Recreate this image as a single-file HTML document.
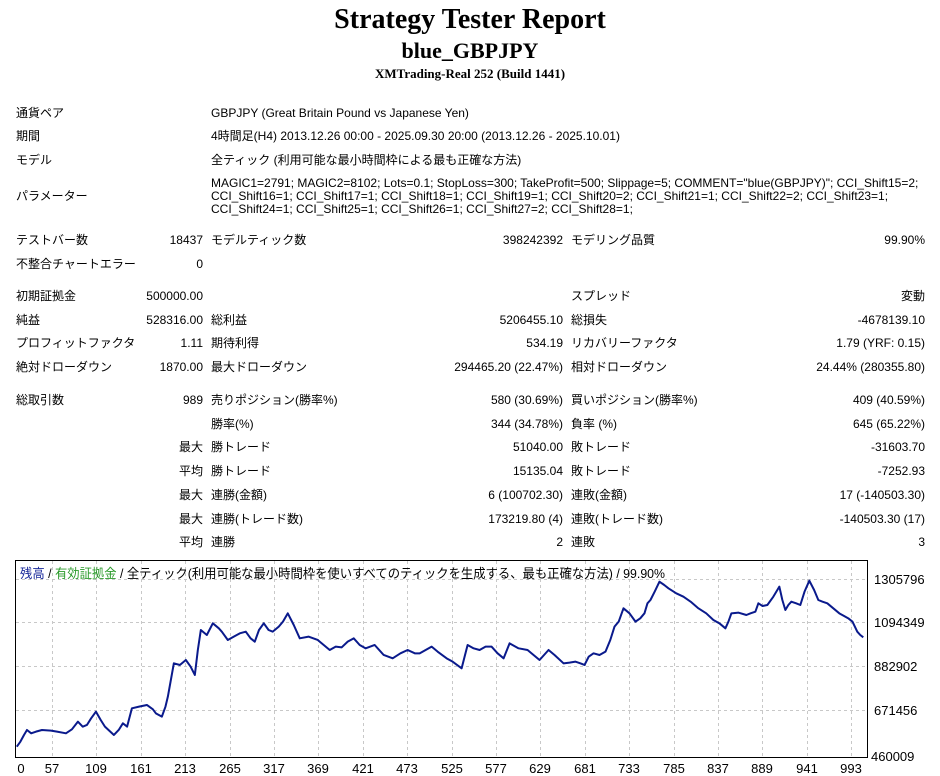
<!DOCTYPE html>
<html><head><meta charset="utf-8"><style>
body{margin:0;width:940px;height:776px;background:#fff;position:relative;overflow:hidden;font-family:"Liberation Sans","Noto Sans CJK JP",sans-serif;font-size:12px;color:#000}
.t{position:absolute;white-space:nowrap;line-height:14px}
.r{text-align:right}
.h{position:absolute;left:0;width:940px;text-align:center;font-family:"Liberation Serif","Noto Serif CJK SC",serif;font-weight:bold}
</style></head><body>
<div class="h" style="top:3px;font-size:28px;line-height:34px">Strategy Tester Report</div>
<div class="h" style="top:37px;font-size:22px;line-height:28px">blue_GBPJPY</div>
<div class="h" style="top:66px;font-size:13px;line-height:16px">XMTrading-Real 252 (Build 1441)</div>

<div class="t" style="left:16px;top:106px">通貨ペア</div>
<div class="t" style="left:211px;top:106px">GBPJPY (Great Britain Pound vs Japanese Yen)</div>
<div class="t" style="left:16px;top:129px">期間</div>
<div class="t" style="left:211px;top:129px">4時間足(H4) 2013.12.26 00:00 - 2025.09.30 20:00 (2013.12.26 - 2025.10.01)</div>
<div class="t" style="left:16px;top:153px">モデル</div>
<div class="t" style="left:211px;top:153px">全ティック (利用可能な最小時間枠による最も正確な方法)</div>
<div class="t" style="left:16px;top:189px">パラメーター</div>
<div class="t" style="left:211px;top:177px;line-height:13px">MAGIC1=2791; MAGIC2=8102; Lots=0.1; StopLoss=300; TakeProfit=500; Slippage=5; COMMENT="blue(GBPJPY)"; CCI_Shift15=2;<br>CCI_Shift16=1; CCI_Shift17=1; CCI_Shift18=1; CCI_Shift19=1; CCI_Shift20=2; CCI_Shift21=1; CCI_Shift22=2; CCI_Shift23=1;<br>CCI_Shift24=1; CCI_Shift25=1; CCI_Shift26=1; CCI_Shift27=2; CCI_Shift28=1;</div>

<div class="t" style="left:16px;top:233px">テストバー数</div><div class="t r" style="right:737px;top:233px">18437</div>
<div class="t" style="left:211px;top:233px">モデルティック数</div><div class="t r" style="right:377px;top:233px">398242392</div>
<div class="t" style="left:571px;top:233px">モデリング品質</div><div class="t r" style="right:15px;top:233px">99.90%</div>
<div class="t" style="left:16px;top:257px">不整合チャートエラー</div><div class="t r" style="right:737px;top:257px">0</div>

<div class="t" style="left:16px;top:289px">初期証拠金</div><div class="t r" style="right:737px;top:289px">500000.00</div>
<div class="t" style="left:571px;top:289px">スプレッド</div><div class="t r" style="right:15px;top:289px">変動</div>
<div class="t" style="left:16px;top:313px">純益</div><div class="t r" style="right:737px;top:313px">528316.00</div>
<div class="t" style="left:211px;top:313px">総利益</div><div class="t r" style="right:377px;top:313px">5206455.10</div>
<div class="t" style="left:571px;top:313px">総損失</div><div class="t r" style="right:15px;top:313px">-4678139.10</div>
<div class="t" style="left:16px;top:336px">プロフィットファクタ</div><div class="t r" style="right:737px;top:336px">1.11</div>
<div class="t" style="left:211px;top:336px">期待利得</div><div class="t r" style="right:377px;top:336px">534.19</div>
<div class="t" style="left:571px;top:336px">リカバリーファクタ</div><div class="t r" style="right:15px;top:336px">1.79 (YRF: 0.15)</div>
<div class="t" style="left:16px;top:360px">絶対ドローダウン</div><div class="t r" style="right:737px;top:360px">1870.00</div>
<div class="t" style="left:211px;top:360px">最大ドローダウン</div><div class="t r" style="right:377px;top:360px">294465.20 (22.47%)</div>
<div class="t" style="left:571px;top:360px">相対ドローダウン</div><div class="t r" style="right:15px;top:360px">24.44% (280355.80)</div>

<div class="t" style="left:16px;top:393px">総取引数</div><div class="t r" style="right:737px;top:393px">989</div>
<div class="t" style="left:211px;top:393px">売りポジション(勝率%)</div><div class="t r" style="right:377px;top:393px">580 (30.69%)</div>
<div class="t" style="left:571px;top:393px">買いポジション(勝率%)</div><div class="t r" style="right:15px;top:393px">409 (40.59%)</div>
<div class="t" style="left:211px;top:417px">勝率(%)</div><div class="t r" style="right:377px;top:417px">344 (34.78%)</div>
<div class="t" style="left:571px;top:417px">負率 (%)</div><div class="t r" style="right:15px;top:417px">645 (65.22%)</div>
<div class="t r" style="right:737px;top:440px">最大</div>
<div class="t" style="left:211px;top:440px">勝トレード</div><div class="t r" style="right:377px;top:440px">51040.00</div>
<div class="t" style="left:571px;top:440px">敗トレード</div><div class="t r" style="right:15px;top:440px">-31603.70</div>
<div class="t r" style="right:737px;top:464px">平均</div>
<div class="t" style="left:211px;top:464px">勝トレード</div><div class="t r" style="right:377px;top:464px">15135.04</div>
<div class="t" style="left:571px;top:464px">敗トレード</div><div class="t r" style="right:15px;top:464px">-7252.93</div>
<div class="t r" style="right:737px;top:488px">最大</div>
<div class="t" style="left:211px;top:488px">連勝(金額)</div><div class="t r" style="right:377px;top:488px">6 (100702.30)</div>
<div class="t" style="left:571px;top:488px">連敗(金額)</div><div class="t r" style="right:15px;top:488px">17 (-140503.30)</div>
<div class="t r" style="right:737px;top:512px">最大</div>
<div class="t" style="left:211px;top:512px">連勝(トレード数)</div><div class="t r" style="right:377px;top:512px">173219.80 (4)</div>
<div class="t" style="left:571px;top:512px">連敗(トレード数)</div><div class="t r" style="right:15px;top:512px">-140503.30 (17)</div>
<div class="t r" style="right:737px;top:535px">平均</div>
<div class="t" style="left:211px;top:535px">連勝</div><div class="t r" style="right:377px;top:535px">2</div>
<div class="t" style="left:571px;top:535px">連敗</div><div class="t r" style="right:15px;top:535px">3</div>

<svg style="position:absolute;left:0;top:550px" width="940" height="226" viewBox="0 0 940 226">
<rect x="15.5" y="10.5" width="852" height="197" fill="#fff" stroke="#000" stroke-width="1"/>
<g stroke="#c8c8c8" stroke-width="1" stroke-dasharray="3,3">
<line x1="16" y1="29.5" x2="867" y2="29.5"/><line x1="16" y1="72.5" x2="867" y2="72.5"/>
<line x1="16" y1="116.5" x2="867" y2="116.5"/><line x1="16" y1="160.5" x2="867" y2="160.5"/>
<line x1="52.5" y1="11" x2="52.5" y2="207"/><line x1="96.5" y1="11" x2="96.5" y2="207"/>
<line x1="141.5" y1="11" x2="141.5" y2="207"/><line x1="185.5" y1="11" x2="185.5" y2="207"/>
<line x1="230.5" y1="11" x2="230.5" y2="207"/><line x1="274.5" y1="11" x2="274.5" y2="207"/>
<line x1="318.5" y1="11" x2="318.5" y2="207"/><line x1="363.5" y1="11" x2="363.5" y2="207"/>
<line x1="407.5" y1="11" x2="407.5" y2="207"/><line x1="452.5" y1="11" x2="452.5" y2="207"/>
<line x1="496.5" y1="11" x2="496.5" y2="207"/><line x1="540.5" y1="11" x2="540.5" y2="207"/>
<line x1="585.5" y1="11" x2="585.5" y2="207"/><line x1="629.5" y1="11" x2="629.5" y2="207"/>
<line x1="674.5" y1="11" x2="674.5" y2="207"/><line x1="718.5" y1="11" x2="718.5" y2="207"/>
<line x1="762.5" y1="11" x2="762.5" y2="207"/><line x1="807.5" y1="11" x2="807.5" y2="207"/>
<line x1="851.5" y1="11" x2="851.5" y2="207"/>
</g>
<g transform="scale(0.5995,0.3333)">
<polyline fill="none" stroke="#0a1a8c" stroke-width="2" vector-effect="non-scaling-stroke" stroke-linejoin="round" points="28,590 34,575 40,555 45,540 52,550 60,545 70,540 85,542 95,545 110,550 120,538 130,515 138,530 145,525 152,505 160,485 168,510 175,530 190,555 198,540 205,520 212,530 220,475 232,470 245,465 255,478 260,490 270,500 276,470 280,440 290,340 300,345 310,330 318,350 325,375 330,300 335,240 345,255 355,220 365,235 370,245 380,270 390,260 400,250 410,245 418,265 425,275 432,240 440,220 448,240 455,245 465,230 472,215 480,190 490,225 500,265 515,260 530,270 540,285 550,300 560,290 570,292 580,275 590,265 600,285 610,295 625,285 640,315 655,325 668,310 680,300 692,310 700,310 710,300 720,290 730,305 745,325 755,335 770,355 775,320 780,285 790,295 800,300 810,290 820,290 830,310 840,325 850,280 865,295 880,300 890,315 900,330 915,300 925,315 940,340 950,338 960,335 968,340 975,345 982,320 990,310 1000,315 1010,305 1018,270 1025,230 1032,215 1040,175 1050,190 1060,215 1068,205 1075,190 1080,160 1085,150 1092,125 1100,95 1108,105 1115,115 1128,130 1140,140 1152,155 1165,175 1178,190 1190,210 1200,220 1210,235 1215,215 1220,190 1232,188 1245,195 1252,190 1260,185 1265,160 1272,168 1280,165 1290,140 1300,110 1305,150 1310,180 1315,165 1320,155 1328,160 1335,165 1342,125 1350,92 1358,120 1365,150 1372,155 1380,160 1390,175 1400,190 1408,198 1415,205 1422,215 1430,245 1435,255 1440,262"/>
</g>
<g font-family="Liberation Sans,Noto Sans CJK JP,sans-serif" font-size="13">
<text x="20" y="28" textLength="645" lengthAdjust="spacingAndGlyphs"><tspan fill="#1a2a9a">残高</tspan><tspan fill="#000"> / </tspan><tspan fill="#2a9a2a">有効証拠金</tspan><tspan fill="#000"> / 全ティック(利用可能な最小時間枠を使いすべてのティックを生成する、最も正確な方法) / 99.90%</tspan></text>
<g fill="#000">
<text x="874" y="34">1305796</text><text x="874" y="77">1094349</text><text x="874" y="121">882902</text><text x="874" y="165">671456</text><text x="871" y="211">460009</text>
</g>
<g fill="#000" text-anchor="middle">
<text x="21" y="223">0</text><text x="52" y="223">57</text><text x="96" y="223">109</text><text x="141" y="223">161</text><text x="185" y="223">213</text><text x="230" y="223">265</text><text x="274" y="223">317</text><text x="318" y="223">369</text><text x="363" y="223">421</text><text x="407" y="223">473</text><text x="452" y="223">525</text><text x="496" y="223">577</text><text x="540" y="223">629</text><text x="585" y="223">681</text><text x="629" y="223">733</text><text x="674" y="223">785</text><text x="718" y="223">837</text><text x="762" y="223">889</text><text x="807" y="223">941</text><text x="851" y="223">993</text>
</g></g>
</svg>
</body></html>
